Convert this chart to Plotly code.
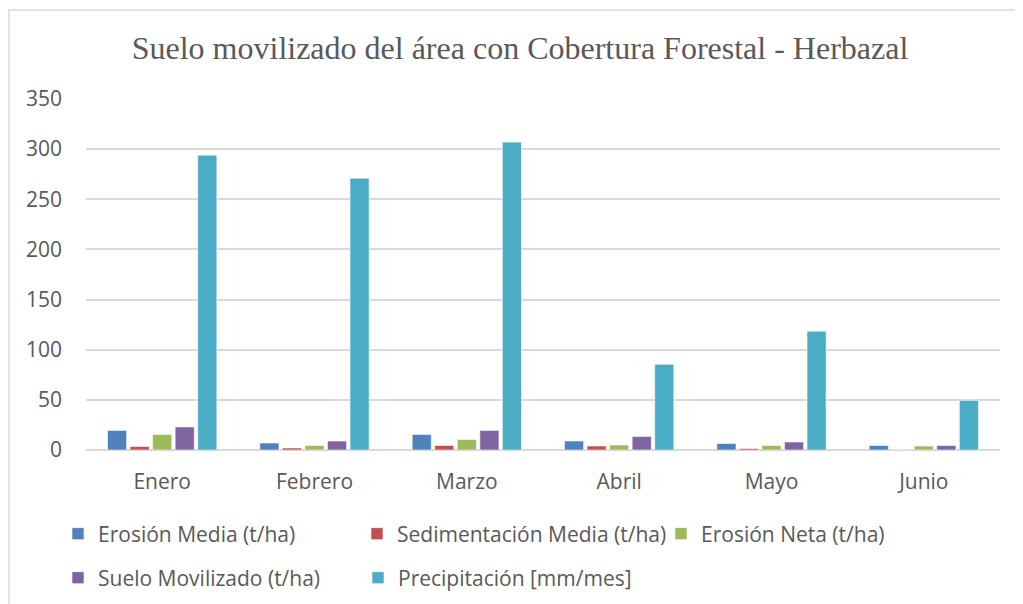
import plotly.graph_objects as go

meses = ["Enero", "Febrero", "Marzo", "Abril", "Mayo", "Junio"]
erosion_media = [19.5, 7, 15.5, 9, 6.5, 4.5]
sedimentacion_media = [3.5, 2, 4.5, 4, 1.5, 0]
erosion_neta = [15.5, 4.5, 10.5, 5, 4.5, 4]
suelo_movilizado = [23, 9, 19.5, 13.5, 8, 4.5]
precipitacion = [294, 271, 307, 85.5, 118.5, 49.5]

series = [
    ("Erosión Media (t/ha)", erosion_media, "#4F81BD", "legend"),
    ("Sedimentación Media (t/ha)", sedimentacion_media, "#C0504D", "legend4"),
    ("Erosión Neta (t/ha)", erosion_neta, "#9BBB59", "legend3"),
    ("Suelo Movilizado (t/ha)", suelo_movilizado, "#8064A2", "legend2"),
    ("Precipitación [mm/mes]", precipitacion, "#4BACC6", "legend2"),
]

fig = go.Figure()
for name, vals, color, leg in series:
    fig.add_trace(go.Bar(
        x=meses, y=vals, name=name, legend=leg, showlegend=True,
        marker=dict(color=color, line=dict(color="rgba(255,255,255,0.6)", width=1)),
    ))

# page body has an 8px margin: the figure is drawn 8px right/down of the window origin
OFF = 8
W, H = 1023 - OFF, 604 - OFF
L, T = 86 - OFF, 99 - OFF
R = W - (1000 - OFF)
B = H - (450 - OFF)
pw, ph = W - L - R, H - T - B

def px(x):  # screen x -> paper x
    return (x - OFF - L) / pw

def py(y):  # screen y -> paper y
    return (H - B - (y - OFF)) / ph

FONT = "'Open Sans', 'Noto Sans', sans-serif"
legfont = dict(family=FONT, size=21, color="#595959")

def leg(x, y):
    return dict(
        orientation="h", x=px(x), xanchor="left", y=py(y), yanchor="middle",
        entrywidth=255, entrywidthmode="pixels", font=legfont,
        bgcolor="rgba(0,0,0,0)",
    )

fig.update_layout(
    width=W, height=H, showlegend=True,
    margin=dict(l=L, r=R, t=T, b=B, autoexpand=False),
    paper_bgcolor="white", plot_bgcolor="white",
    barmode="group", bargap=0.26, bargroupgap=0.15,
    title=dict(
        text="Suelo movilizado del área con Cobertura Forestal - Herbazal",
        font=dict(family="'Liberation Serif', 'Times New Roman', serif", size=32, color="#595959"),
        x=(520 - OFF) / W, xref="container", xanchor="center",
        y=1 - (48 - OFF) / H, yref="container", yanchor="middle",
    ),
    xaxis=dict(
        showgrid=False, showline=False, ticks="",
        tickfont=dict(family=FONT, size=21, color="#595959"),
        ticklabelstandoff=17,
    ),
    yaxis=dict(
        range=[0, 350], dtick=50, showgrid=True, gridcolor="#D9D9D9", gridwidth=1.5,
        zeroline=True, zerolinecolor="#D9D9D9", zerolinewidth=1.5,
        showline=False, ticks="",
        tickfont=dict(family=FONT, size=21, color="#595959"),
        ticklabelstandoff=23,
    ),
    legend=leg(58, 534),
    legend4=dict(
        orientation="h", x=px(357), xanchor="left", y=py(534), yanchor="middle",
        font=legfont, bgcolor="rgba(0,0,0,0)",
    ),
    legend3=leg(661, 534),
    legend2=leg(58, 578),
    shapes=[dict(
        type="rect", xref="paper", yref="paper",
        x0=px(9), x1=px(1040), y0=py(620), y1=py(10),
        line=dict(color="#D9D9D9", width=1.5), fillcolor="rgba(0,0,0,0)", layer="below",
    )],
)

fig.write_html("out.html")
